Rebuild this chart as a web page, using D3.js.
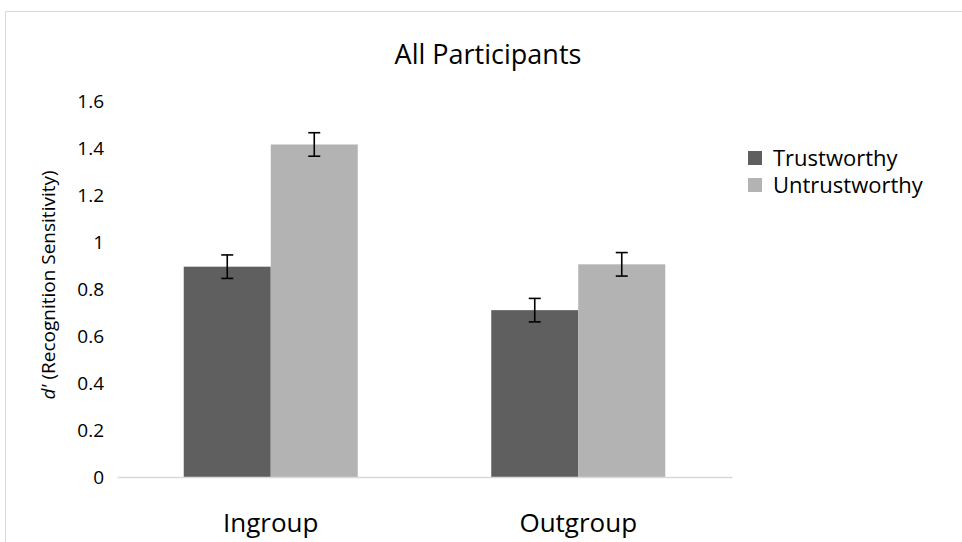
<!DOCTYPE html>
<html>
<head>
<meta charset="utf-8">
<script src="https://cdn.jsdelivr.net/npm/d3@7"></script>
<style>
  body { margin: 0; background: #fff; }
  text { font-family: "Open Sans", sans-serif; fill: #000; }
</style>
</head>
<body>
<script>
// data
let groups = ["Ingroup", "Outgroup"];
let seriesNames = ["Trustworthy", "Untrustworthy"];
let trustVals = [0.895, 0.71];
let untrustVals = [1.415, 0.905];
let trustErr = [0.05, 0.05];
let untrustErr = [0.05, 0.05];
let yTicks = [0, 0.2, 0.4, 0.6, 0.8, 1, 1.2, 1.4, 1.6];
let colors = ["#5f5f5f", "#b3b3b3"];

function main(){
    let width = 962, height = 542;

    let svg = d3.select("body").append("svg")
        .attr("width", width)
        .attr("height", height);

    // chart border (cropped at right and bottom)
    svg.append("path")
        .attr("d", "M5.5," + height + " V11.5 H" + width)
        .attr("fill", "none")
        .attr("stroke", "#d9d9d9")
        .attr("stroke-width", 1);

    let xScale = d3.scaleBand().domain(groups).range([117, 732]);
    let inner = d3.scaleBand().domain(seriesNames)
        .range([0, xScale.bandwidth()]).paddingOuter(0.767);
    let yScale = d3.scaleLinear().domain([0, 1.6]).range([477, 101]);

    let rows = groups.map(function(g, i) {
        return [
            {g: g, s: seriesNames[0], v: trustVals[i], e: trustErr[i], c: colors[0]},
            {g: g, s: seriesNames[1], v: untrustVals[i], e: untrustErr[i], c: colors[1]}
        ];
    }).flat();

    // bars
    svg.append("g").selectAll("rect")
        .data(rows)
        .enter()
        .append("rect")
        .attr("x", d => xScale(d.g) + inner(d.s))
        .attr("width", inner.bandwidth())
        .attr("y", d => yScale(d.v))
        .attr("height", d => yScale(0) - yScale(d.v))
        .attr("fill", d => d.c);

    // x axis line
    svg.append("g")
        .attr("transform", "translate(0,477)")
        .call(d3.axisBottom(xScale).tickSize(0).tickFormat(""))
        .call(g => g.select(".domain").attr("stroke", "#d9d9d9").attr("stroke-width", 1.5));

    // error bars
    let eb = svg.append("g").attr("stroke", "#000").attr("stroke-width", 1.6);
    rows.forEach(function(d) {
        let cx = xScale(d.g) + inner(d.s) + inner.bandwidth() / 2;
        eb.append("line").attr("x1", cx).attr("x2", cx)
            .attr("y1", yScale(d.v + d.e)).attr("y2", yScale(d.v - d.e));
        eb.append("line").attr("x1", cx - 6).attr("x2", cx + 6)
            .attr("y1", yScale(d.v + d.e)).attr("y2", yScale(d.v + d.e));
        eb.append("line").attr("x1", cx - 6).attr("x2", cx + 6)
            .attr("y1", yScale(d.v - d.e)).attr("y2", yScale(d.v - d.e));
    });

    // y tick labels
    svg.append("g")
        .attr("font-size", 19)
        .selectAll("text")
        .data(yTicks)
        .enter()
        .append("text")
        .attr("x", 104)
        .attr("y", d => yScale(d))
        .attr("dy", "0.35em")
        .attr("text-anchor", "end")
        .text(d => d);

    // category labels
    svg.append("g")
        .attr("font-size", 26)
        .selectAll("text")
        .data(groups)
        .enter()
        .append("text")
        .attr("x", d => xScale(d) + xScale.bandwidth() / 2)
        .attr("y", 532)
        .attr("text-anchor", "middle")
        .text(d => d);

    // title
    svg.append("text")
        .attr("x", 488)
        .attr("y", 64)
        .attr("text-anchor", "middle")
        .attr("font-size", 27)
        .text("All Participants");

    // y axis title
    let yt = svg.append("text")
        .attr("transform", "translate(55,285) rotate(-90)")
        .attr("text-anchor", "middle")
        .attr("font-size", 19);
    yt.append("tspan").attr("font-style", "italic").text("d'");
    yt.append("tspan").text(" (Recognition Sensitivity)");

    // legend
    let legend = svg.append("g")
        .selectAll("g")
        .data(seriesNames)
        .enter()
        .append("g")
        .attr("transform", (d, i) => "translate(748," + (158 + i * 27) + ")");
    legend.append("rect")
        .attr("x", 0).attr("y", -7)
        .attr("width", 14).attr("height", 14)
        .attr("fill", (d, i) => colors[i]);
    legend.append("text")
        .attr("x", 25)
        .attr("dy", "0.35em")
        .attr("font-size", 22)
        .text(d => d);
}

main();
</script>
</body>
</html>
